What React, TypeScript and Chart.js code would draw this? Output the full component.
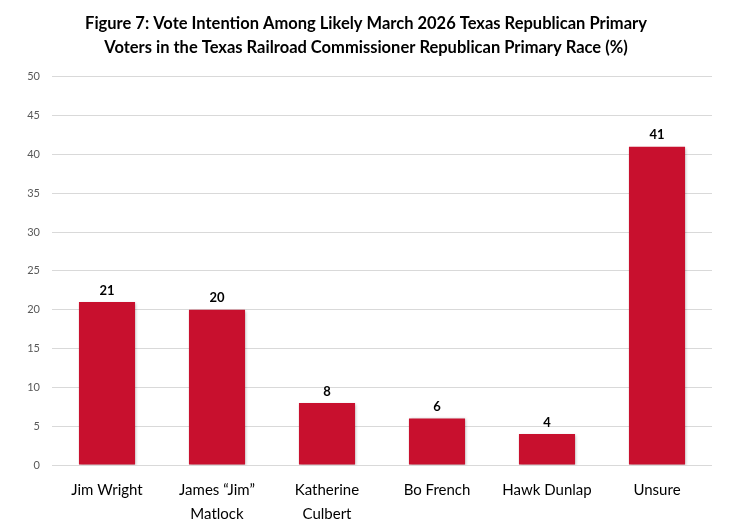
import { useEffect, useRef } from 'react';
import { Chart, registerables } from 'chart.js';

Chart.register(...registerables);

const TITLE_LINES = [
  'Figure 7: Vote Intention Among Likely March 2026 Texas Republican Primary',
  'Voters in the Texas Railroad Commissioner Republican Primary Race (%)',
];
const CANDIDATES: (string | string[])[] = [
  'Jim Wright',
  ['James \u201cJim\u201d', 'Matlock'],
  ['Katherine', 'Culbert'],
  'Bo French',
  'Hawk Dunlap',
  'Unsure',
];
const VOTE_SHARE = [21, 20, 8, 6, 4, 41];
const Y_MIN = 0;
const Y_MAX = 50;
const Y_STEP = 5;

const BAR_COLOR = '#C8102E';
const FONT = 'Lato, "Open Sans", sans-serif';

// value labels above bars
const valueLabels = {
  id: 'valueLabels',
  afterDatasetsDraw(chart: Chart) {
    const ctx = chart.ctx;
    const meta = chart.getDatasetMeta(0);
    ctx.save();
    ctx.font = `bold 13px ${FONT}`;
    ctx.fillStyle = '#000000';
    ctx.textAlign = 'center';
    ctx.textBaseline = 'bottom';
    meta.data.forEach((bar: any, i: number) => {
      ctx.fillText(String(VOTE_SHARE[i]), bar.x, bar.y - 5);
    });
    ctx.restore();
  },
};

// soft shadow like the spreadsheet bars
const barShadow = {
  id: 'barShadow',
  beforeDatasetDraw(chart: Chart) {
    const ctx = chart.ctx;
    ctx.save();
    ctx.shadowColor = 'rgba(0,0,0,0.3)';
    ctx.shadowBlur = 3;
    ctx.shadowOffsetX = 1;
    ctx.shadowOffsetY = 1;
  },
  afterDatasetDraw(chart: Chart) {
    chart.ctx.restore();
  },
};

export default function App() {
  const canvasRef = useRef<HTMLCanvasElement>(null);
  const chartRef = useRef<Chart | null>(null);

  useEffect(() => {
    document.body.style.margin = '0';
    if (!canvasRef.current) return;
    if (chartRef.current) chartRef.current.destroy();

    chartRef.current = new Chart(canvasRef.current, {
      type: 'bar',
      data: {
        labels: CANDIDATES,
        datasets: [
          {
            data: VOTE_SHARE,
            backgroundColor: BAR_COLOR,
            borderWidth: 0,
            categoryPercentage: 1,
            barPercentage: 0.51,
          },
        ],
      },
      options: {
        animation: false,
        responsive: false,
        devicePixelRatio: 1,
        layout: { padding: { left: 20, right: 24, top: 0, bottom: 0 } },
        plugins: {
          legend: { display: false },
          tooltip: { enabled: false },
          title: {
            display: true,
            text: TITLE_LINES,
            color: '#000000',
            font: { family: FONT, size: 16.5, weight: 'bold', lineHeight: 1.45 },
            padding: { top: 12, bottom: 17 },
          },
        },
        scales: {
          x: {
            grid: { display: false },
            border: { display: false },
            ticks: {
              color: '#000000',
              font: { family: FONT, size: 15, lineHeight: 1.6 },
              padding: 5,
              maxRotation: 0,
              autoSkip: false,
            },
            afterFit: (scale: any) => {
              scale.height = 58;
            },
          },
          y: {
            min: Y_MIN,
            max: Y_MAX,
            grid: { color: '#D9D9D9', lineWidth: 1, drawTicks: false },
            border: { display: false },
            ticks: {
              stepSize: Y_STEP,
              color: '#595959',
              font: { family: FONT, size: 11 },
              padding: 12,
            },
            afterFit: (scale: any) => {
              scale.width = 32;
            },
          },
        },
      },
      plugins: [barShadow, valueLabels],
    });

    return () => {
      if (chartRef.current) {
        chartRef.current.destroy();
        chartRef.current = null;
      }
    };
  }, []);

  return (
    <div style={{ width: 736, height: 523, background: '#ffffff' }}>
      <canvas ref={canvasRef} width={736} height={523}></canvas>
    </div>
  );
}
